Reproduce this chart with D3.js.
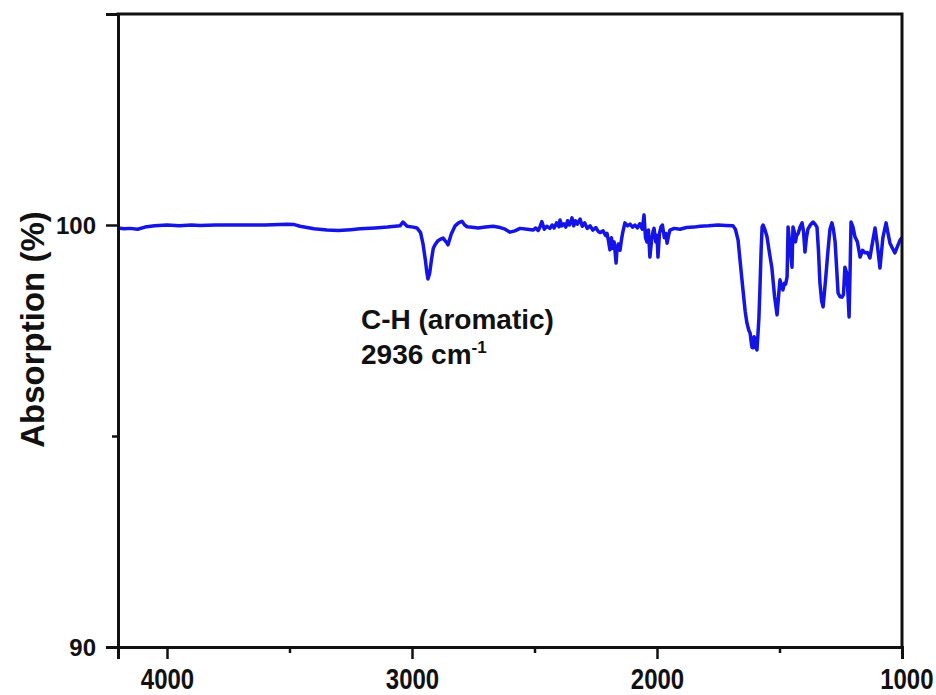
<!DOCTYPE html>
<html>
<head>
<meta charset="utf-8">
<script src="https://cdn.jsdelivr.net/npm/d3@7"></script>
<style>
  html, body { margin: 0; padding: 0; background: #fff; }
  svg { display: block; }
  text { font-family: Arial, "Liberation Sans", Helvetica, sans-serif; font-weight: bold; fill: #111; }
</style>
</head>
<body>
<svg id="chart" width="936" height="695"></svg>
<script>
// FTIR spectrum: wavenumber (cm-1) and absorption (%)
const wavenumber = [
  4200, 4175, 4151, 4120, 4090, 4050, 4000, 3950, 3900, 3865, 3800, 3702, 3600, 3510, 3480,
  3457, 3400, 3347, 3300, 3250, 3212, 3150, 3100, 3049, 3037, 3020, 2995, 2980, 2965,
  2955, 2945, 2940, 2935, 2928, 2920, 2913, 2906, 2895, 2885, 2873, 2865, 2858, 2853,
  2840, 2824, 2810, 2796, 2785, 2775, 2763, 2730, 2700, 2669, 2640, 2620, 2600, 2580,
  2559, 2530, 2506, 2495, 2485, 2478, 2470, 2460, 2450, 2437, 2428, 2420, 2410, 2400,
  2396, 2388, 2380, 2372, 2365, 2358, 2352, 2347, 2340, 2333, 2325, 2314, 2305, 2295,
  2285, 2273, 2262, 2250, 2240, 2233, 2220, 2210, 2204, 2198, 2192, 2186, 2180, 2175,
  2170, 2167, 2163, 2158, 2151, 2145, 2140, 2131, 2120, 2110, 2100, 2090, 2080, 2070,
  2060, 2053, 2047, 2041, 2035, 2029, 2022, 2016, 2012, 2005, 2000, 1996, 1990, 1984,
  1978, 1970, 1964, 1959, 1953, 1947, 1930, 1906, 1880, 1850, 1824, 1790, 1750, 1720,
  1690, 1680, 1669, 1660, 1649, 1640, 1633, 1625, 1620, 1615, 1612, 1608, 1604, 1600,
  1596, 1592, 1588, 1584, 1580, 1575, 1571, 1567, 1560, 1551, 1540, 1531, 1520, 1510,
  1504, 1498, 1492, 1486, 1480, 1475, 1469, 1465, 1457, 1449, 1445, 1440, 1435, 1430,
  1424, 1416, 1408, 1402, 1396, 1390, 1384, 1374, 1363, 1355, 1347, 1341, 1335, 1328,
  1322, 1312, 1302, 1294, 1286, 1280, 1273, 1267, 1261, 1253, 1245, 1239, 1233, 1225,
  1220, 1216, 1212, 1208, 1200, 1192, 1182, 1171, 1161, 1151, 1141, 1131, 1120, 1110,
  1100, 1090, 1078, 1065, 1057, 1049, 1039, 1029, 1018, 1008, 1000
];
const absorption = [
  99.93, 99.91, 99.92, 99.90, 99.95, 99.98, 100.00, 99.98, 100.00, 99.99, 100.00, 100.00, 100.00, 100.02, 100.01,
  99.97, 99.91, 99.88, 99.87, 99.89, 99.91, 99.93, 99.95, 99.98, 100.07, 99.97, 99.95, 99.93, 99.82,
  99.55, 99.15, 98.90, 98.72, 98.85, 99.20, 99.45, 99.53, 99.62, 99.66, 99.69, 99.63, 99.58, 99.53,
  99.78, 99.98, 100.05, 100.09, 100.00, 99.96, 99.95, 99.93, 99.95, 99.97, 99.94, 99.90, 99.83, 99.86,
  99.92, 99.90, 99.88, 99.93, 99.87, 99.95, 100.08, 99.90, 99.97, 99.92, 100.00, 99.93, 100.05, 99.96,
  100.12, 99.98, 100.03, 99.95, 100.10, 100.00, 100.06, 100.17, 99.98, 100.10, 100.02, 100.14, 99.97, 100.05,
  99.92, 99.98, 99.88, 99.94, 99.85, 99.82, 99.86, 99.75, 99.80, 99.62, 99.41, 99.70, 99.45, 99.60,
  99.30, 99.10, 99.45, 99.55, 99.40, 99.65, 99.82, 100.05, 99.98, 100.02, 99.95, 100.00, 99.93, 100.03,
  99.90, 100.24, 99.70, 99.60, 99.88, 99.24, 99.65, 99.85, 99.92, 99.60, 99.75, 99.24, 99.80, 99.95,
  100.00, 99.70, 99.80, 99.57, 99.75, 99.88, 99.92, 99.90, 99.94, 99.95, 99.97, 99.98, 100.00, 99.99,
  99.98, 99.90, 99.64, 99.10, 98.46, 97.95, 97.68, 97.50, 97.44, 97.20, 97.10, 97.09, 97.35, 97.30,
  97.10, 97.04, 97.40, 97.80, 98.46, 99.40, 99.95, 100.00, 99.90, 99.72, 99.30, 98.98, 98.30, 97.87,
  98.30, 98.70, 98.55, 98.46, 98.62, 98.60, 98.77, 99.95, 99.50, 99.00, 99.95, 99.85, 99.60, 99.75,
  99.80, 99.95, 100.05, 99.85, 99.36, 99.70, 99.90, 100.00, 100.07, 100.02, 99.95, 99.40, 98.63, 98.20,
  98.06, 98.70, 99.40, 99.90, 100.05, 99.90, 99.60, 99.00, 98.39, 98.30, 98.29, 98.35, 99.00, 98.85,
  98.30, 97.82, 98.90, 100.07, 99.95, 99.72, 99.60, 99.24, 99.40, 99.34, 99.35, 99.22, 99.60, 99.93,
  99.50, 98.98, 99.70, 100.05, 99.80, 99.57, 99.45, 99.34, 99.50, 99.64, 99.70
];

const xTicks = [4000, 3000, 2000, 1000];
const xMinorTicks = [3500, 2500, 1500];
const yTicks = [90, 100];
const yMinorTicks = [95];

const annotationLine1 = "C-H (aromatic)";
const annotationLine2 = "2936 cm";
const annotationSup = "-1";
const yTitle = "Absorption (%)";

const spectrum = wavenumber.map((w, i) => ({ w: w, a: absorption[i] }));

const svg = d3.select("#chart");
const plotLeft = 118, plotRight = 902, plotTop = 14, plotBottom = 647;

const x = d3.scaleLinear().domain([4200, 1000]).range([plotLeft, plotRight]);
const y = d3.scaleLinear().domain([90, 105]).range([plotBottom, plotTop]);

// spectrum trace
const line = d3.line().x(d => x(d.w)).y(d => y(d.a));
svg.append("path")
  .datum(spectrum)
  .attr("d", line)
  .attr("fill", "none")
  .attr("stroke", "#1414e6")
  .attr("stroke-width", 3.5)
  .attr("stroke-linejoin", "round");

// frame on top and right
svg.append("path")
  .attr("d", `M${plotLeft},${plotTop}H${plotRight}V${plotBottom}`)
  .attr("fill", "none")
  .attr("stroke", "#111")
  .attr("stroke-width", 3)
  .attr("stroke-linecap", "square");

// bottom axis
const gx = svg.append("g").attr("transform", `translate(0,${plotBottom})`)
  .call(d3.axisBottom(x).tickValues(xTicks).tickSize(12).tickFormat(d3.format("d")));
const gxMinor = svg.append("g").attr("transform", `translate(0,${plotBottom})`)
  .call(d3.axisBottom(x).tickValues(xMinorTicks).tickSize(6).tickFormat(""));

// left axis
const gy = svg.append("g").attr("transform", `translate(${plotLeft},0)`)
  .call(d3.axisLeft(y).tickValues(yTicks).tickSize(12).tickFormat(d3.format("d")));
const gyMinor = svg.append("g").attr("transform", `translate(${plotLeft},0)`)
  .call(d3.axisLeft(y).tickValues(yMinorTicks).tickSize(6).tickFormat(""));

[gx, gxMinor, gy, gyMinor].forEach(g => {
  g.select(".domain").attr("stroke", "#111").attr("stroke-width", 3);
  g.selectAll(".tick line").attr("stroke", "#111").attr("stroke-width", 2.5);
});
gxMinor.select(".domain").remove();
gyMinor.select(".domain").remove();

// tall, narrow tick numerals along the wavenumber axis
gx.selectAll(".tick text")
  .attr("y", 0).attr("dy", 0)
  .attr("transform", "translate(0,42) scale(1,1.22)")
  .style("font-size", "24px")
  .style("font-family", "Arial, 'Liberation Sans', sans-serif")
  .style("font-weight", "bold")
  .attr("fill", "#111");
// rightmost label sits inside the canvas edge
gx.selectAll(".tick text").filter(d => d === 1000).attr("text-anchor", "end").attr("x", 31);

gy.selectAll(".tick text")
  .attr("x", -22).attr("dy", "0.36em")
  .style("font-size", "24px")
  .style("font-family", "Arial, 'Liberation Sans', sans-serif")
  .style("font-weight", "bold")
  .attr("fill", "#111");

// y axis title
svg.append("text")
  .attr("transform", `translate(44,${(207 + 452) / 2}) rotate(-90)`)
  .attr("text-anchor", "middle")
  .style("font-size", "33px")
  .text(yTitle);

// peak annotation
svg.append("text")
  .attr("x", 361).attr("y", 329)
  .style("font-size", "28px")
  .text(annotationLine1);
const t2 = svg.append("text")
  .attr("x", 361).attr("y", 364)
  .style("font-size", "28px")
  .text(annotationLine2);
t2.append("tspan")
  .attr("dy", -11)
  .style("font-size", "17px")
  .text(annotationSup);
</script>
</body>
</html>
